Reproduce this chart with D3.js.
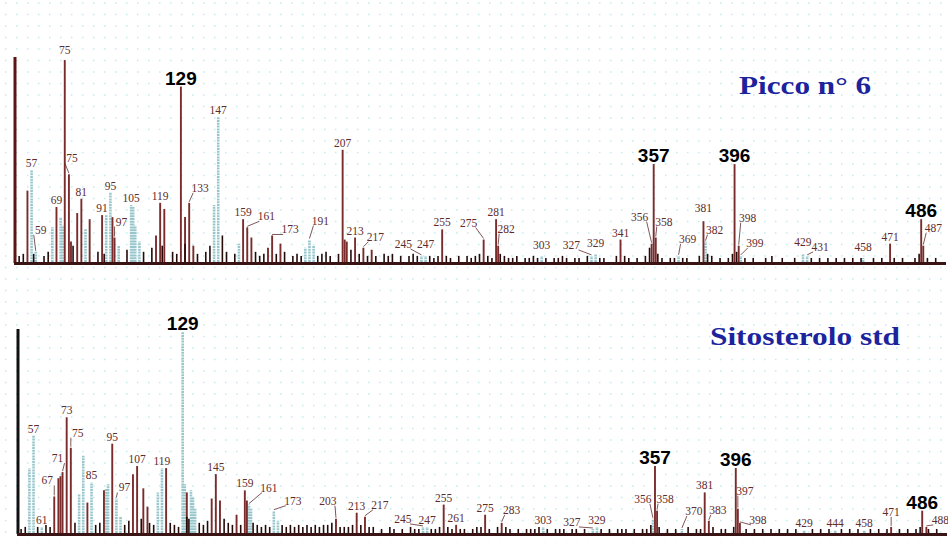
<!DOCTYPE html>
<html>
<head>
<meta charset="utf-8">
<script src="https://cdn.jsdelivr.net/npm/d3@7"></script>
<style>
  body { margin: 0; background: #fff; }
  svg { display: block; }
</style>
</head>
<body>
<svg id="chart" width="948" height="543"></svg>
<script>
// ---- data: [m/z, relative intensity %] ----
// Picco n° 6 (top spectrum)
let top_brown = [[55,35],[69,27],[73,99],[75,43],[76,10],[79,24],[81,31],[85,21],[91,23],[96,22],[97,12],
  [117,13],[119,29],[121,26],[129,86],[131,22],[133,29],[135,8],[159,21],[161,17],[163,12],[171,7],[173,13],[177,9],
  [207,55],[208,11],[209,10],[213,12],[217,7],[221,6],[255,16],[275,11],[281,21],[282,8],[341,11],[356,9],[357,48],
  [358,12],[381,20],[396,48],[398,8],[471,9],[486,21],[487,8]];
let top_blue = [[57,45],[59,5],[67,17],[71,22],[72,18],[83,16],[93,23],[95,34],[99,8],[105,28],[106,27],[107,18],
  [109,10],[145,28],[147,71],[157,9],[189,7],[191,11],[193,8],[245,3],[247,3],[303,3],[327,3],[329,4],[369,3],
  [382,10],[399,3],[429,4],[431,3],[458,2]];
let top_dark = [[51,3],[53,4],[58,4],[63,3],[65,5],[77,8],[89,5],[92,4],[103,6],[111,5],[115,7],[120,8],[125,5],
  [127,4],[131,9],[137,4],[141,5],[143,8],[149,13],[151,5],[155,4],[165,5],[167,3],[169,4],[175,4],[179,5],[183,3],
  [185,4],[187,3],[195,3],[197,4],[199,5],[201,3],[205,4],[211,6],[215,4],[219,3],[223,3],[227,4],[229,3],[231,4],
  [235,3],[239,3],[241,4],[243,3],[249,3],[251,2],[253,3],[257,3],[259,2],[263,3],[267,3],[269,2],[271,3],[273,4],
  [277,3],[279,2],[283,4],[285,3],[287,2],[289,2],[291,3],[295,2],[297,2],[299,3],[301,2],[305,2],[309,2],[311,2],
  [313,3],[315,2],[319,2],[321,2],[325,3],[331,2],[333,2],[339,3],[343,3],[345,2],[349,2],[353,3],[355,7],[359,4],
  [361,2],[365,2],[367,2],[371,2],[373,2],[379,3],[383,4],[385,3],[389,2],[393,2],[395,4],[397,5],[401,2],[405,2],
  [411,2],[414,3],[419,2],[425,2],[433,2],[437,2],[441,2],[445,2],[449,2],[453,2],[457,2],[463,2],[467,2],[473,2],
  [477,2],[483,2],[485,4],[489,2],[493,2]];
let top_labels = ["57","59","69","75","81","91","95","97","105","119","133","147","159","161","173","191","207","213",
  "217","245","247","255","275","281","282","303","327","329","341","356","358","369","381","382","398","399","429",
  "431","458","471","487"];
let top_label_mz = [57,59,69,73,81,91,95,97,105,119,133,147,159,161,173,191,207,213,217,245,247,255,275,281,282,303,
  327,329,341,356,358,369,381,382,398,399,429,431,458,471,487];
let top_second75 = 75;
let top_big = [129,357,396,486];

// Sitosterolo std (bottom spectrum)
let bot_brown = [[67,18],[69,27],[70,28],[71,30],[73,57],[75,42],[83,15],[91,21],[95,44],[105,29],[107,33],[110,22],
  [112,13],[121,32],[131,20],[143,17],[145,29],[147,16],[155,9],[159,21],[160,16],[203,7],[213,10],[217,8],[255,14],
  [261,4],[275,9],[283,5],[357,33],[358,11],[381,20],[383,6],[396,32],[397,12],[398,5],[471,3],[486,11],[488,3]];
let bot_blue = [[55,32],[57,48],[61,3],[79,19],[81,38],[85,25],[92,22],[93,24],[97,17],[99,8],[117,20],[119,32],
  [129,99],[130,24],[133,21],[134,18],[135,12],[161,14],[162,12],[173,11],[175,6],[245,3],[247,3],[303,3],[327,2],
  [329,3],[356,7],[370,2],[429,1.5],[444,1.5],[458,1.5]];
let bot_dark = [[51,2],[53,3],[59,3],[63,4],[65,3],[77,5],[87,4],[89,5],[101,4],[103,6],[109,7],[113,5],[115,4],
  [123,5],[125,4],[127,3],[131,8],[132,7],[137,5],[139,4],[141,6],[149,7],[151,5],[153,4],[157,4],[163,5],[165,4],
  [167,3],[169,4],[171,3],[177,4],[179,3],[181,4],[183,3],[185,4],[187,3],[189,4],[191,3],[193,4],[195,3],[197,4],
  [199,4],[201,5],[205,3],[207,3],[209,3],[211,4],[215,4],[219,3],[221,3],[225,2],[229,3],[231,2],[235,2],[239,3],
  [241,2],[243,2],[249,2],[251,2],[253,3],[257,3],[259,2],[263,2],[265,2],[269,2],[271,3],[273,3],[277,2],[281,3],
  [285,3],[287,2],[291,2],[295,2],[297,2],[299,2],[301,3],[305,2],[309,2],[311,2],[313,2],[317,2],[319,2],[323,2],
  [331,2],[335,2],[339,2],[341,2],[343,2],[347,2],[351,2],[353,2],[355,4],[359,3],[363,2],[367,2],[373,3],[377,2],
  [379,2],[385,3],[389,2],[391,2],[395,3],[401,2],[405,2],[409,2],[413,2],[417,2],[421,2],[425,2],[433,2],[437,2],
  [441,2],[447,2],[451,2],[455,2],[461,2],[465,2],[469,2],[475,2],[479,2],[483,2],[485,3],[489,2],[493,2]];
let bot_labels = ["57","61","67","71","73","75","85","95","97","107","119","145","159","161","173","203","213","217",
  "245","247","255","261","275","283","303","327","329","356","358","370","381","383","397","398","429","444","458",
  "471","488"];
let bot_label_mz = [57,61,67,71,73,75,85,95,97,107,119,145,159,161,173,203,213,217,245,247,255,261,275,283,303,327,
  329,356,358,370,381,383,397,398,429,444,458,471,488];
let bot_big = [129,357,396,486];

let titles = ["Picco n° 6", "Sitosterolo std"];

// ---- layout ----
let width = 948, height = 543;
let col_brown = "#7a2c2c", col_blue = "#98c6cb", col_dark = "#250a0a", col_label = "#5e2c2c";

// label nudges [dx, dy] from default spot above the peak (leader line drawn when moved)
let top_nudge = {"59":[5,-15],"75b":[3,-9],"97":[7,-9],"133":[11,-8],"161":[19,-4],"173":[18,1],"191":[11,-12],
  "217":[12,-4],"245":[-18,-5],"247":[0,-5],"275":[-15,-10],"282":[8,-10],"303":[0,-4],"327":[-20,-4],"329":[0,-4],
  "356":[-12,-20],"358":[8,-9],"369":[9,-10],"381":[0,-6],"382":[9,-5],"398":[9,-21],"399":[14,-6],"429":[0,-5],
  "431":[13,-2],"458":[0,-4],"487":[10,-11],"75":[0,-3]};
let bot_nudge = {"67":[-7,-9],"71":[-5,-7],"75":[7,-8],"97":[8,-4],"161":[20,-10],"173":[19,-3],"203":[-8,-11],
  "217":[15,-5],"245":[-20,-1],"283":[10,-6],"327":[-21,0],"356":[-10,-13],"358":[8,-5],"370":[12,-11],
  "383":[9,-4],"397":[7,-11],"398":[18,4],"471":[0,-8],"488":[14,0]};

let svg = d3.select("#chart");

// dotted background grid
let grid = svg.append("g").attr("class", "grid");
grid.selectAll("line").data(d3.range(0, height, 11.5)).enter().append("line")
  .attr("x1", 5).attr("x2", width).attr("y1", d => d + 3).attr("y2", d => d + 3)
  .attr("stroke", "#c4eaee").attr("stroke-width", 1.5).attr("stroke-dasharray", "1.5,9.5");

function draw_panel(cfg){
  let g = svg.append("g").attr("class", "panel");
  let x = d3.scaleLinear().domain(cfg.mz_domain).range(cfg.x_range);
  let y = d3.scaleLinear().domain([0, 100]).range([cfg.base, cfg.top]);

  let all = {};
  [cfg.blue, cfg.brown, cfg.dark].forEach(s => s.forEach(d => { all[d[0]] = Math.max(all[d[0]] || 0, d[1]); }));

  // axes
  g.append("line").attr("x1", x.range()[0]).attr("x2", x.range()[0])
    .attr("y1", y(0) + 1).attr("y2", cfg.top - 1)
    .attr("stroke", cfg.axis_col).attr("stroke-width", 3);
  let ax = d3.axisBottom(x).ticks(90).tickSize(2).tickFormat("");
  let axg = g.append("g").attr("transform", "translate(0," + (y(0) + 1) + ")").call(ax);
  axg.select(".domain").attr("stroke", "#3a1414").attr("stroke-width", 3);
  axg.selectAll(".tick line").attr("stroke", "#3a1414");

  let series = [[cfg.blue, col_blue, 2.6, "2,0.8"], [cfg.brown, col_brown, 1.9, null], [cfg.dark, col_dark, 1.6, null]];
  series.forEach(s => {
    g.append("g").selectAll("line").data(s[0]).enter().append("line")
      .attr("x1", d => x(d[0])).attr("x2", d => x(d[0]))
      .attr("y1", y(0)).attr("y2", d => y(d[1]))
      .attr("stroke", s[1]).attr("stroke-width", s[2])
      .attr("stroke-dasharray", s[3]);
  });

  // small labels
  let lab = cfg.labels.map((t, i) => {
    let mz = cfg.label_mz[i];
    let n = cfg.nudge[t] || [0, 0];
    let bx = x(mz), by = y(all[mz] || 1);
    return {t: t, bx: bx, by: by, lx: bx + n[0], ly: by - 3 + n[1], moved: Math.abs(n[0]) + Math.abs(n[1]) > 6};
  });
  if (cfg.second75){
    let n = cfg.nudge["75b"];
    let bx = x(cfg.second75), by = y(all[cfg.second75]);
    lab.push({t: "75", bx: bx, by: by, lx: bx + n[0], ly: by - 3 + n[1], moved: true});
  }

  g.append("g").selectAll("line").data(lab.filter(d => d.moved)).enter().append("line")
    .attr("x1", d => d.bx).attr("y1", d => d.by - 1)
    .attr("x2", d => d.lx - Math.sign(d.lx - d.bx) * 7).attr("y2", d => d.ly + 1)
    .attr("stroke", col_label).attr("stroke-width", 0.8);

  g.append("g").selectAll("text").data(lab).enter().append("text")
    .attr("x", d => d.lx).attr("y", d => d.ly)
    .attr("text-anchor", "middle")
    .attr("font-family", "Liberation Serif, serif").attr("font-size", 11.5)
    .attr("fill", col_label)
    .text(d => d.t);

  // bold labels
  g.append("g").selectAll("text").data(cfg.big).enter().append("text")
    .attr("x", d => x(d)).attr("y", d => y(all[d]) - 2)
    .attr("text-anchor", "middle")
    .attr("font-family", "Liberation Sans, Arial, sans-serif").attr("font-weight", "bold")
    .attr("font-size", 19).attr("fill", "#000")
    .text(d => d);

  g.append("text")
    .attr("x", cfg.title_x).attr("y", cfg.title_y)
    .attr("font-family", "Liberation Serif, serif").attr("font-weight", "bold")
    .attr("font-size", 26).attr("fill", "#1c239c")
    .attr("textLength", cfg.title_w).attr("lengthAdjust", "spacingAndGlyphs")
    .text(cfg.title);
}

draw_panel({mz_domain: [49, 497], x_range: [15, 944], base: 262, top: 58, axis_col: "#5c1414",
  brown: top_brown, blue: top_blue, dark: top_dark, labels: top_labels, label_mz: top_label_mz,
  second75: top_second75, nudge: top_nudge, big: top_big,
  title: titles[0], title_x: 739, title_y: 94, title_w: 132});

draw_panel({mz_domain: [49.5, 497], x_range: [18, 945], base: 533, top: 330, axis_col: "#111",
  brown: bot_brown, blue: bot_blue, dark: bot_dark, labels: bot_labels, label_mz: bot_label_mz,
  second75: null, nudge: bot_nudge, big: bot_big,
  title: titles[1], title_x: 710, title_y: 345, title_w: 190});
</script>
</body>
</html>
